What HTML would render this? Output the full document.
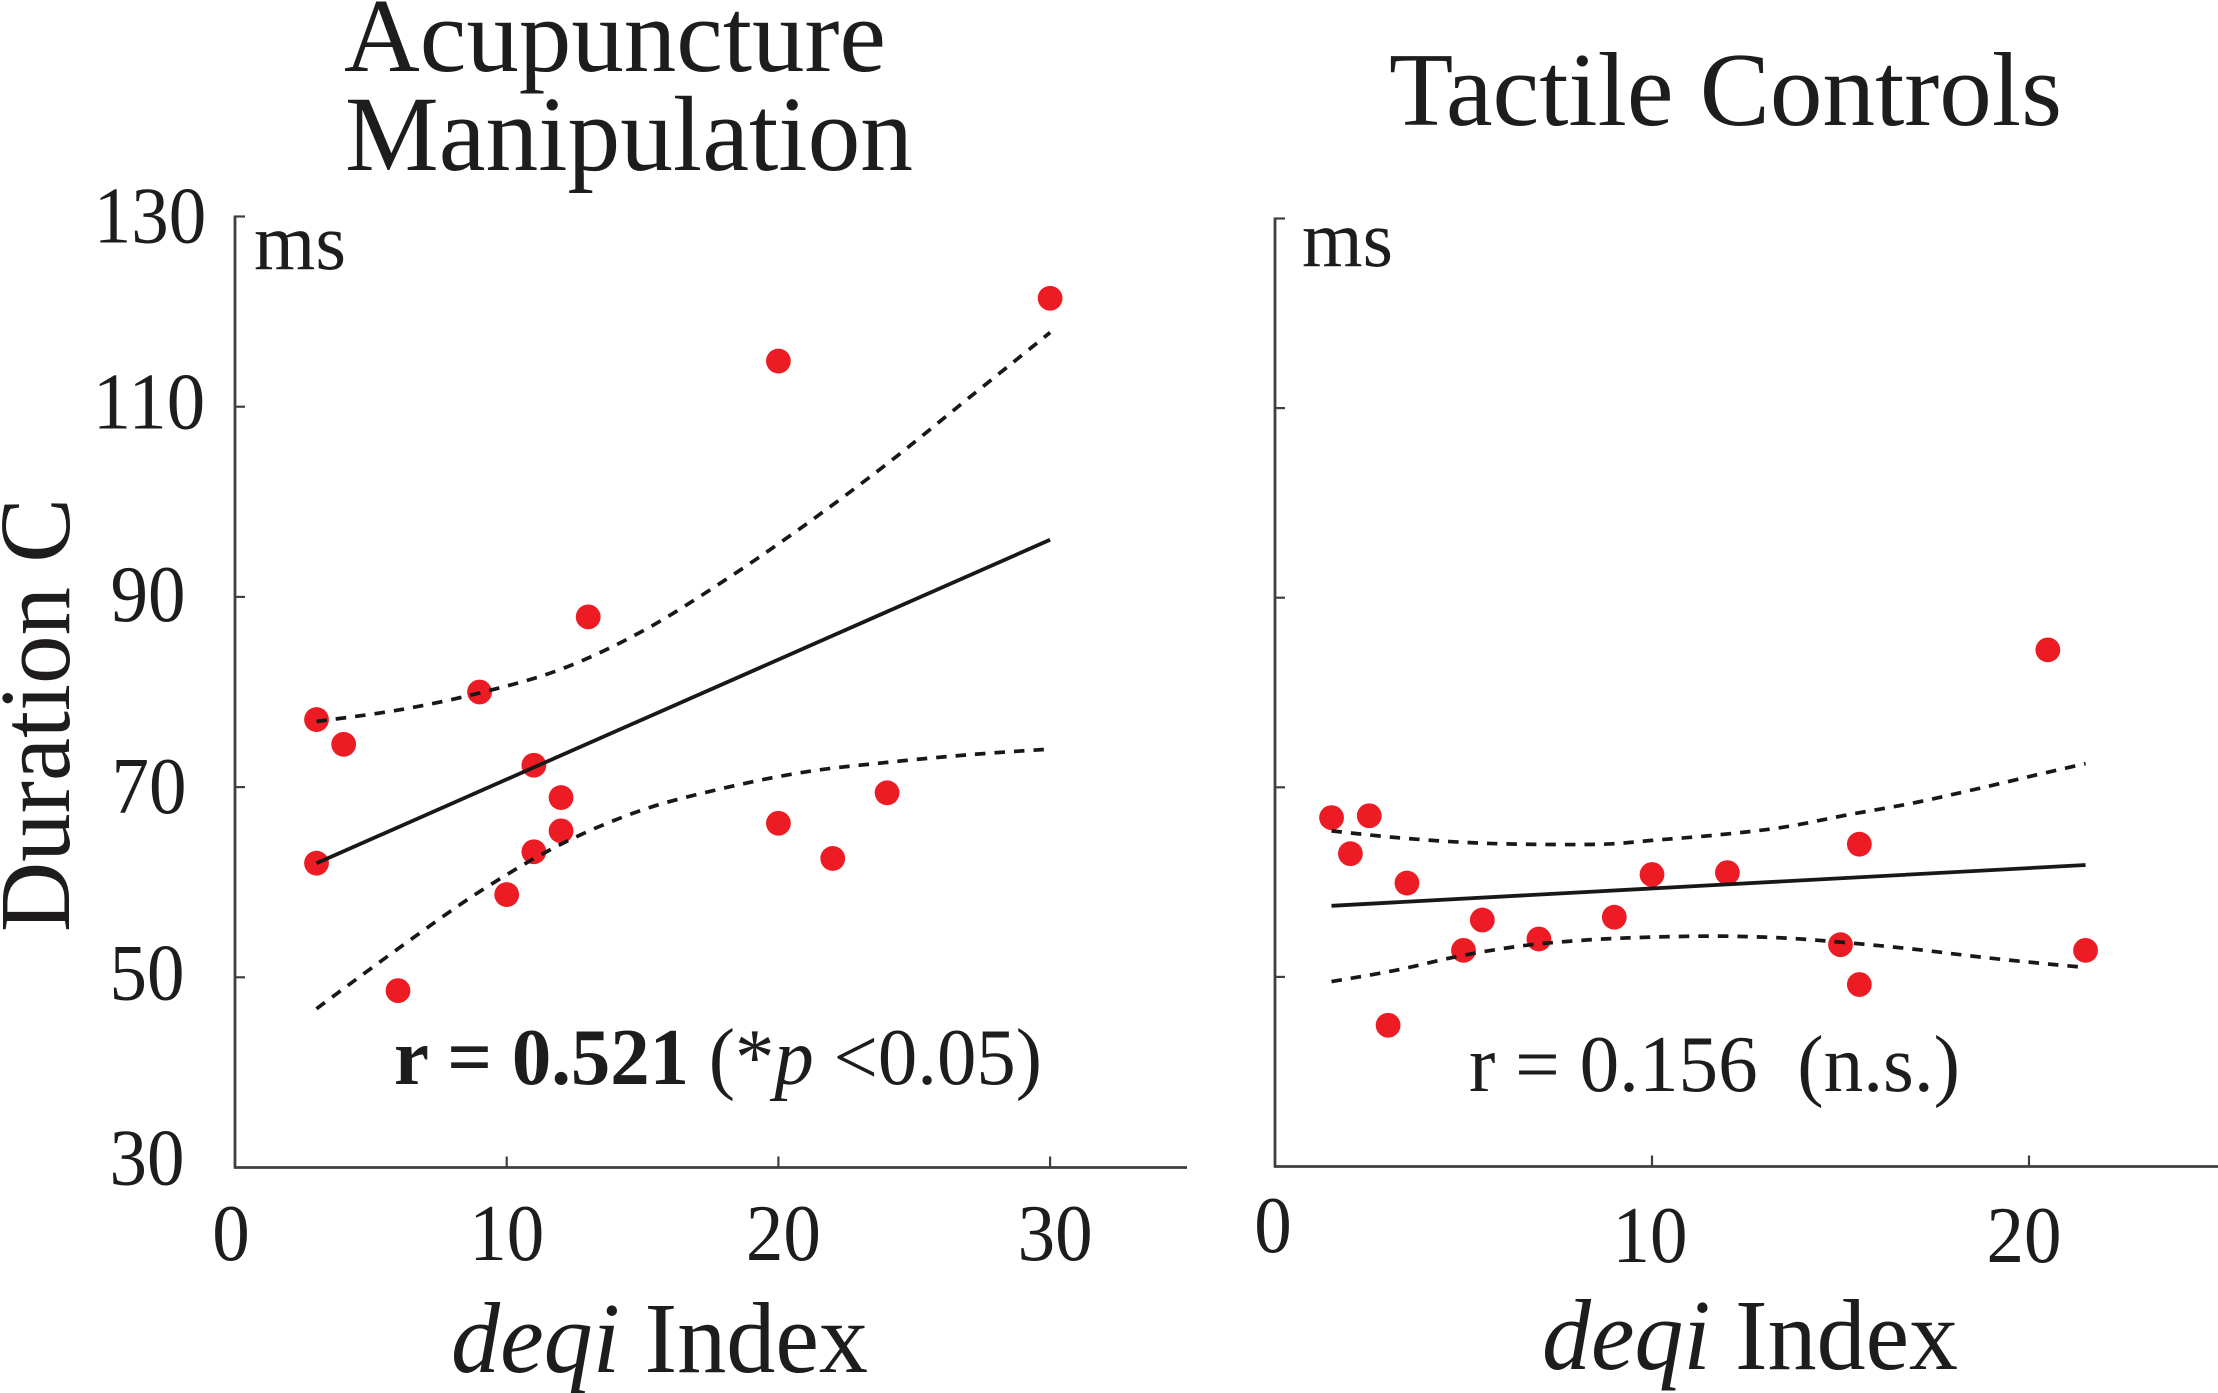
<!DOCTYPE html>
<html lang="en">
<head>
<meta charset="utf-8">
<title>Duration C vs deqi Index</title>
<style>
html,body{margin:0;padding:0;background:#fff;}
svg{display:block;}
text{font-family:"Liberation Serif","Times New Roman",serif;fill:#1f1c1d;}
</style>
</head>
<body>
<svg id="chart" xmlns="http://www.w3.org/2000/svg" width="2218" height="1393" viewBox="0 0 2218 1393">
  <rect x="0" y="0" width="2218" height="1393" fill="#ffffff"/>

  <text x="344" y="71" font-size="105" textLength="542" lengthAdjust="spacingAndGlyphs">Acupuncture</text>
  <text x="345" y="170" font-size="107" textLength="568" lengthAdjust="spacingAndGlyphs">Manipulation</text>
  <text x="1389" y="125" font-size="105" textLength="673" lengthAdjust="spacingAndGlyphs">Tactile Controls</text>

  <text transform="translate(69,932) rotate(-90)" font-size="101" textLength="434" lengthAdjust="spacingAndGlyphs">Duration C</text>

  <text x="254" y="269" font-size="80" textLength="92" lengthAdjust="spacingAndGlyphs">ms</text>
  <text x="1302" y="266" font-size="80" textLength="91" lengthAdjust="spacingAndGlyphs">ms</text>

  <g id="left-panel"></g>
  <g id="right-panel"></g>

  <text x="394" y="1084" font-size="81" textLength="648" lengthAdjust="spacingAndGlyphs"><tspan font-weight="bold">r = 0.521</tspan> (*<tspan font-style="italic">p</tspan> &lt;0.05)</text>
  <text x="1469" y="1091" font-size="81" textLength="491" lengthAdjust="spacingAndGlyphs">r = 0.156 &#160;(n.s.)</text>

  <text x="451" y="1372" font-size="101" textLength="417" lengthAdjust="spacingAndGlyphs"><tspan font-style="italic">deqi</tspan> Index</text>
  <text x="1542" y="1369" font-size="101" textLength="416" lengthAdjust="spacingAndGlyphs"><tspan font-style="italic">deqi</tspan> Index</text>
</svg>

<script>
// ---------- shared tick values ----------
const yTickValues = [30, 50, 70, 90, 110, 130];
const leftXTickLabels = [0, 10, 20, 30];
const rightXTickLabels = [0, 10, 20];

// ---------- left panel: Acupuncture Manipulation ----------
const leftPointsX = [3, 4, 9, 13, 20, 30, 11, 12, 12, 11, 10, 3, 6, 20, 22, 24];
const leftPointsY = [77.1, 74.5, 80, 87.9, 114.8, 121.4, 72.3, 68.9, 65.4, 63.2, 58.7, 62, 48.6, 66.2, 62.5, 69.4];
const leftFitX = [3, 30];
const leftFitY = [62, 96];
const leftUpperX = [3, 6, 9, 12, 15, 18, 21, 24, 27, 30];
const leftUpperY = [76.9, 78.1, 79.9, 82.4, 86.4, 91.7, 97.6, 104, 110.9, 117.8];
const leftLowerX = [3, 6, 9, 12, 15, 18, 21, 24, 27, 30];
const leftLowerY = [46.7, 53, 59, 64, 67.6, 69.9, 71.6, 72.6, 73.4, 74];

// ---------- right panel: Tactile Controls ----------
const rightPointsX = [1.5, 2.5, 2, 3.5, 5.5, 5, 7, 9, 10, 12, 15.5, 15, 15.5, 21.5, 3, 20.5];
const rightPointsY = [66.8, 67, 63, 59.9, 56, 52.8, 54, 56.3, 60.8, 61, 64, 53.4, 49.2, 52.8, 44.9, 84.5];
const rightFitX = [1.5, 21.5];
const rightFitY = [57.5, 61.8];
const rightUpperX = [1.5, 3.2, 5, 6.6, 8.7, 10, 11.8, 13.5, 15.2, 17, 18.7, 20.4, 21.5];
const rightUpperY = [65.4, 64.7, 64.2, 64, 64, 64.4, 65, 65.8, 67.1, 68.4, 69.9, 71.5, 72.5];
const rightLowerX = [1.5, 3.2, 4.9, 6.6, 8.3, 10, 11.8, 13.5, 15.2, 17, 18.7, 20.4, 21.5];
const rightLowerY = [49.5, 50.7, 52.2, 53.3, 53.9, 54.2, 54.3, 54.1, 53.6, 52.9, 52.1, 51.4, 51];

const SVG_NS = 'http://www.w3.org/2000/svg';
const AXIS_COLOR = '#3f3f3f';
const INK = '#1a1718';
const DOT = '#ed1c24';

function make(tag, parent, props) {
  const el = document.createElementNS(SVG_NS, tag);
  for (const k in props) el.setAttribute(k, props[k]);
  parent.appendChild(el);
  return el;
}

function smoothPath(xs, ys, sx, sy) {
  const p = xs.map((x, i) => [sx(x), sy(ys[i])]);
  let d = 'M' + p[0][0].toFixed(1) + ' ' + p[0][1].toFixed(1);
  for (let i = 0; i < p.length - 1; i++) {
    const a = p[Math.max(i - 1, 0)], b = p[i], c = p[i + 1], e = p[Math.min(i + 2, p.length - 1)];
    const c1x = b[0] + (c[0] - a[0]) / 6, c1y = b[1] + (c[1] - a[1]) / 6;
    const c2x = c[0] - (e[0] - b[0]) / 6, c2y = c[1] - (e[1] - b[1]) / 6;
    d += 'C' + [c1x, c1y, c2x, c2y, c[0], c[1]].map(n => n.toFixed(1)).join(' ');
  }
  return d;
}

// axis functions
const leftSX = v => 235 + v * 27.17;
const leftSY = v => 1167.5 - (v - 30) * 9.51;
const rightSX = v => 1275 + v * 37.7;
const rightSY = v => 1166.5 - (v - 30) * 9.48;

function drawAxes(group, sx, sy, xEnd, xTicks) {
  const x0 = sx(0);
  const yAxis = make('line', group, {x1: x0, x2: x0, y1: sy(130) - 1, y2: sy(30) + 1, stroke: AXIS_COLOR, 'stroke-width': 2.8});
  
  
  const xAxis = make('line', group, {x1: x0 - 1, x2: xEnd, y1: sy(30), y2: sy(30), stroke: AXIS_COLOR, 'stroke-width': 2.8});
  
  
  yTickValues.forEach(v => {
    if (v === 30) return;
    const t = make('line', group, {x1: x0, x2: x0 + 10, y1: sy(v), y2: sy(v), stroke: AXIS_COLOR, 'stroke-width': 2.2});
    
    
  });
  xTicks.forEach(v => {
    if (v === 0) return;
    const t = make('line', group, {x1: sx(v), x2: sx(v), y1: sy(30), y2: sy(30) - 11, stroke: AXIS_COLOR, 'stroke-width': 2.2});
    
    
  });
}

function drawDots(group, xs, ys, sx, sy) {
  xs.forEach((x, i) => {
    const c = make('circle', group, {cx: sx(x), cy: sy(ys[i]), r: 12.4, fill: DOT});
    
    
  });
}

function drawFit(group, xs, ys, sx, sy) {
  const l = make('path', group, {d: smoothPath(xs, ys, sx, sy), fill: 'none', stroke: INK, 'stroke-width': 3.8});
  
  
}

function drawBand(group, xs, ys, sx, sy, name) {
  const l = make('path', group, {d: smoothPath(xs, ys, sx, sy), fill: 'none', stroke: INK, 'stroke-width': 3.7, 'stroke-dasharray': '10.5 9'});
  
  
}

function label(group, str, x, y, name) {
  const t = make('text', group, {x: x, y: y, 'font-size': 81, 'text-anchor': 'middle', textLength: str.length * 37.5, lengthAdjust: 'spacingAndGlyphs'});
  t.textContent = str;
  
  
}

const leftG = document.getElementById('left-panel');
const rightG = document.getElementById('right-panel');

drawAxes(leftG, leftSX, leftSY, 1187, leftXTickLabels);
drawAxes(rightG, rightSX, rightSY, 2218, rightXTickLabels);

drawDots(leftG, leftPointsX, leftPointsY, leftSX, leftSY);
drawDots(rightG, rightPointsX, rightPointsY, rightSX, rightSY);

drawFit(leftG, leftFitX, leftFitY, leftSX, leftSY);
drawBand(leftG, leftUpperX, leftUpperY, leftSX, leftSY, 'upper-confidence-band');
drawBand(leftG, leftLowerX, leftLowerY, leftSX, leftSY, 'lower-confidence-band');

drawFit(rightG, rightFitX, rightFitY, rightSX, rightSY);
drawBand(rightG, rightUpperX, rightUpperY, rightSX, rightSY, 'upper-confidence-band');
drawBand(rightG, rightLowerX, rightLowerY, rightSX, rightSY, 'lower-confidence-band');

// tick labels (only the left panel prints y values)
const yLabelNudge = {30: 17, 50: 22, 70: 26, 90: 24, 110: 22, 130: 26};
const yLabelCentre = {30: 147, 50: 147, 70: 149, 90: 148, 110: 149, 130: 150};
yTickValues.forEach(v => {
  label(leftG, String(v), yLabelCentre[v], leftSY(v) + yLabelNudge[v], 'y-tick-label-' + v);
});
leftXTickLabels.forEach(v => {
  label(leftG, String(v), leftSX(v) + (v === 0 ? -4 : v === 10 ? 0 : 5), 1260, 'x-tick-label-' + v);
});
rightXTickLabels.forEach(v => {
  label(rightG, String(v), rightSX(v) + (v === 0 ? -2 : v === 10 ? -2 : -5), v === 0 ? 1252 : 1262, 'x-tick-label-' + v);
});
</script>
</body>
</html>
